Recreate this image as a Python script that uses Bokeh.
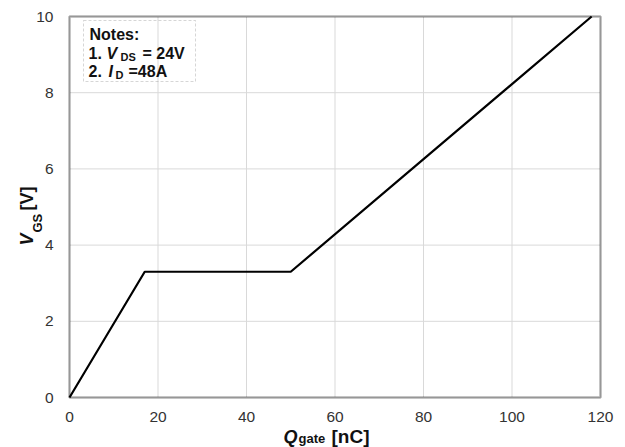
from bokeh.plotting import figure
from bokeh.models import Range1d, Label, BoxAnnotation, FixedTicker
from bokeh.embed import file_html
from bokeh.resources import INLINE
import math

# data
q_gate = [0, 17, 50, 118]
v_gs = [0, 3.3, 3.3, 10]
x_ticks = [0, 20, 40, 60, 80, 100, 120]
y_ticks = [0, 2, 4, 6, 8, 10]
x_lim = (0, 120)
y_lim = (0, 10)

FONT = "Liberation Sans"
W, H = 625, 447
# plot box position on the canvas (pixels)
PL, PR, PT, PB = 69, 600, 16, 397

sx = (PR - PL) / (x_lim[1] - x_lim[0])
sy = (PB - PT) / (y_lim[1] - y_lim[0])
xr = Range1d(x_lim[0] - PL / sx, x_lim[1] + (W - PR) / sx)
yr = Range1d(y_lim[0] - (H - PB) / sy, y_lim[1] + PT / sy)

p = figure(width=W, height=H, output_backend="svg", toolbar_location=None,
           x_range=xr, y_range=yr,
           min_border_left=0, min_border_right=0, min_border_top=0, min_border_bottom=0)
p.background_fill_color = "white"
p.border_fill_color = "white"
p.outline_line_color = None
p.xgrid.visible = False
p.ygrid.visible = False

for ax in (p.xaxis, p.yaxis):
    ax.axis_line_color = None
    ax.major_tick_line_color = None
    ax.minor_tick_line_color = None
    ax.major_label_text_font = FONT
    ax.major_label_text_font_size = "15.5px"
    ax.major_label_text_color = "#333333"
p.xaxis.ticker = FixedTicker(ticks=x_ticks)
p.yaxis.ticker = FixedTicker(ticks=y_ticks)
p.xaxis.fixed_location = y_lim[0]
p.yaxis.fixed_location = x_lim[0]
p.xaxis.major_label_standoff = 8
p.yaxis.major_label_standoff = 10

# grid lines from the tick positions
p.segment(x0=x_ticks, y0=[y_lim[0]] * len(x_ticks), x1=x_ticks, y1=[y_lim[1]] * len(x_ticks),
          line_color="#d9d9d9", line_width=1)
p.segment(x0=[x_lim[0]] * len(y_ticks), y0=y_ticks, x1=[x_lim[1]] * len(y_ticks), y1=y_ticks,
          line_color="#d9d9d9", line_width=1)

p.line(q_gate, v_gs, line_color="black", line_width=2.2)

# plot box outline
p.add_layout(BoxAnnotation(left=x_lim[0], right=x_lim[1], bottom=y_lim[0], top=y_lim[1],
                           fill_color=None, line_color="black", line_width=2.5))

D = 5  # baseline correction


def lab(X, Y, text, size, style="bold", angle=0):
    # X, Y: canvas pixel position (top-down) of the baseline start
    if angle:
        X = X - D
    else:
        Y = Y - D
    p.add_layout(Label(x=X, y=H - Y, x_units="screen", y_units="screen", text=text,
                       text_font=FONT, text_font_size=f"{size}px", text_font_style=style,
                       text_color="#111111", angle=angle, text_align="left",
                       text_baseline="alphabetic"))


# Notes box
p.add_layout(BoxAnnotation(left=83, right=195, top=H - 20, bottom=H - 81,
                           left_units="screen", right_units="screen",
                           top_units="screen", bottom_units="screen",
                           fill_color=None, line_color="#777777", line_dash="3 2", line_width=1))

lab(89, 39, "Notes:", 16)
lab(88, 57.5, "1.", 16)
lab(106, 57.5, "V", 16, "bold italic")
lab(120, 61.5, "DS", 11)
lab(142, 57.5, "= 24V", 16)
lab(88, 75.5, "2.", 16)
lab(108, 75.5, "I", 16, "bold italic")
lab(115, 79.5, "D", 11)
lab(128, 75.5, "=48A", 16)

# x axis label
lab(283, 441, "Q", 18, "bold italic")
lab(298, 443, "gate", 13)
lab(331, 441, "[nC]", 19)

# y axis label (rotated)
A = math.pi / 2
lab(31, 245, "V", 18, "bold italic", A)
lab(42, 232, "GS", 13, "bold", A)
lab(31, 210, "[V]", 18, "bold", A)

out = file_html(p, INLINE)
open("out.html", "w").write(out)
